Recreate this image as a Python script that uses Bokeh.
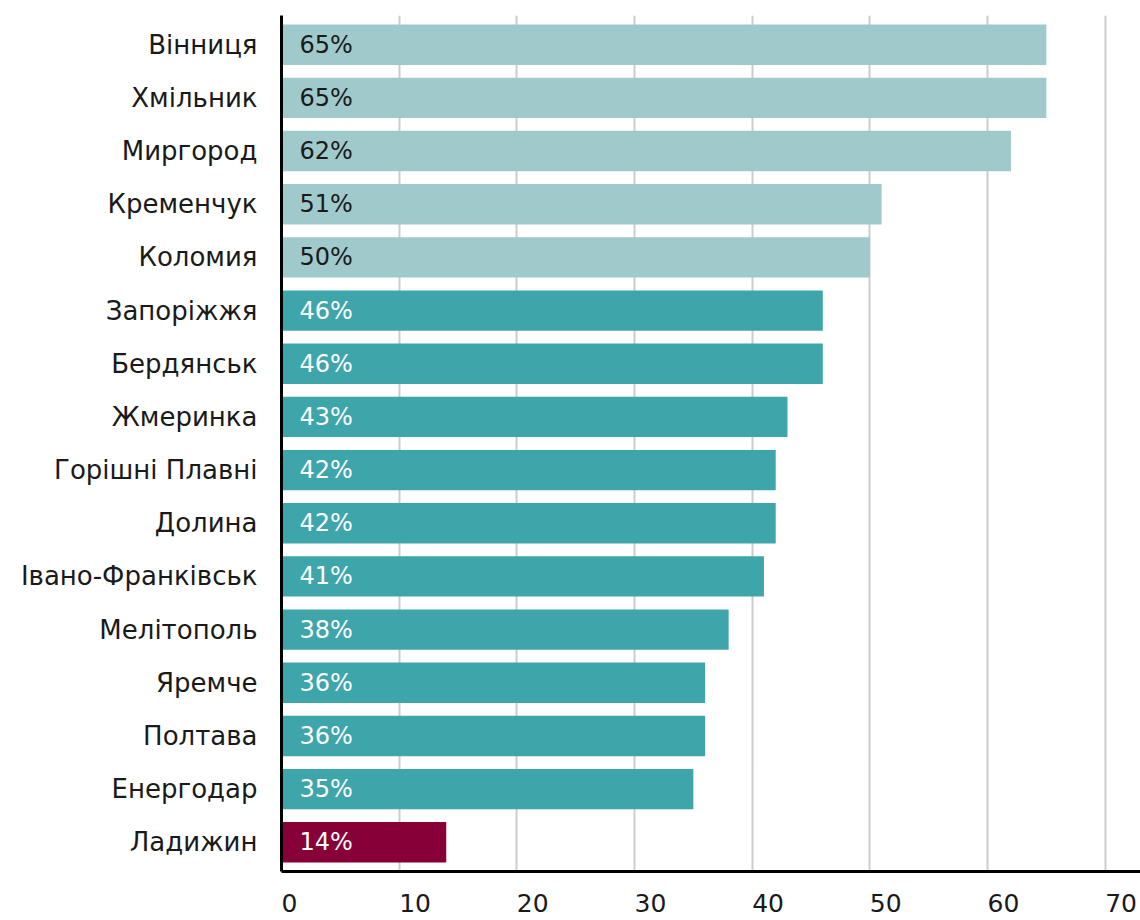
from bokeh.plotting import figure
from bokeh.models import ColumnDataSource, FactorRange, Range1d, FixedTicker
from bokeh.embed import file_html
from bokeh.resources import INLINE
from bokeh.core.properties import value

cities = ["Вінниця", "Хмільник", "Миргород", "Кременчук", "Коломия", "Запоріжжя",
          "Бердянськ", "Жмеринка", "Горішні Плавні", "Долина", "Івано-Франківськ",
          "Мелітополь", "Яремче", "Полтава", "Енергодар", "Ладижин"]
values = [65, 65, 62, 51, 50, 46, 46, 43, 42, 42, 41, 38, 36, 36, 35, 14]
groups = ["high"] * 5 + ["mid"] * 10 + ["low"]
palette = {"high": "#A0C9CC", "mid": "#3EA6AA", "low": "#870037"}
label_palette = {"high": "#1a1a1a", "mid": "#ffffff", "low": "#ffffff"}
x_ticks = [0, 10, 20, 30, 40, 50, 60, 70]

FONT = "DejaVu Sans"

src = ColumnDataSource(dict(
    city=cities,
    val=values,
    color=[palette[g] for g in groups],
    lcolor=[label_palette[g] for g in groups],
    label=[f"{v}%" for v in values],
    zero=[0] * len(values),
))

p = figure(width=1140, height=920, output_backend="svg", toolbar_location=None,
           y_range=FactorRange(factors=list(reversed(cities)), range_padding=0.05,
                               range_padding_units="absolute"),
           x_range=Range1d(0, 73),
           min_border_left=281, min_border_top=15, min_border_right=0,
           min_border_bottom=47)
p.outline_line_color = None
p.background_fill_color = "white"

p.hbar(y="city", right="val", left=0, height=0.76, color="color", source=src, line_color=None)
p.text(x="zero", y="city", text="label", source=src, x_offset=18,
       text_font=value(FONT), text_font_size="24px", text_color="lcolor",
       text_align="left", text_baseline="middle")

p.xgrid.ticker = FixedTicker(ticks=x_ticks)
p.xgrid.grid_line_color = "#cccccc"
p.xgrid.grid_line_width = 2
p.ygrid.grid_line_color = None

p.xaxis.ticker = FixedTicker(ticks=x_ticks)
# labels start at their tick (figure spaces pad the centred text to the right)
p.xaxis.major_label_overrides = {t: "\u2007" * len(str(t)) + str(t) for t in x_ticks}
p.xaxis.axis_line_color = "black"
p.xaxis.axis_line_width = 3
p.xaxis.major_tick_line_color = None
p.xaxis.minor_tick_line_color = None
p.xaxis.major_label_standoff = 11
p.xaxis.major_label_text_font = FONT
p.xaxis.major_label_text_font_size = "25px"
p.xaxis.major_label_text_color = "#1a1a1a"

p.yaxis.axis_line_color = "black"
p.yaxis.axis_line_width = 3
p.yaxis.major_tick_line_color = None
p.yaxis.minor_tick_line_color = None
p.yaxis.major_label_standoff = 18
p.yaxis.major_label_text_font = FONT
p.yaxis.major_label_text_font_size = "26px"
p.yaxis.major_label_text_color = "#1a1a1a"

open("out.html", "w").write(file_html(p, INLINE))
